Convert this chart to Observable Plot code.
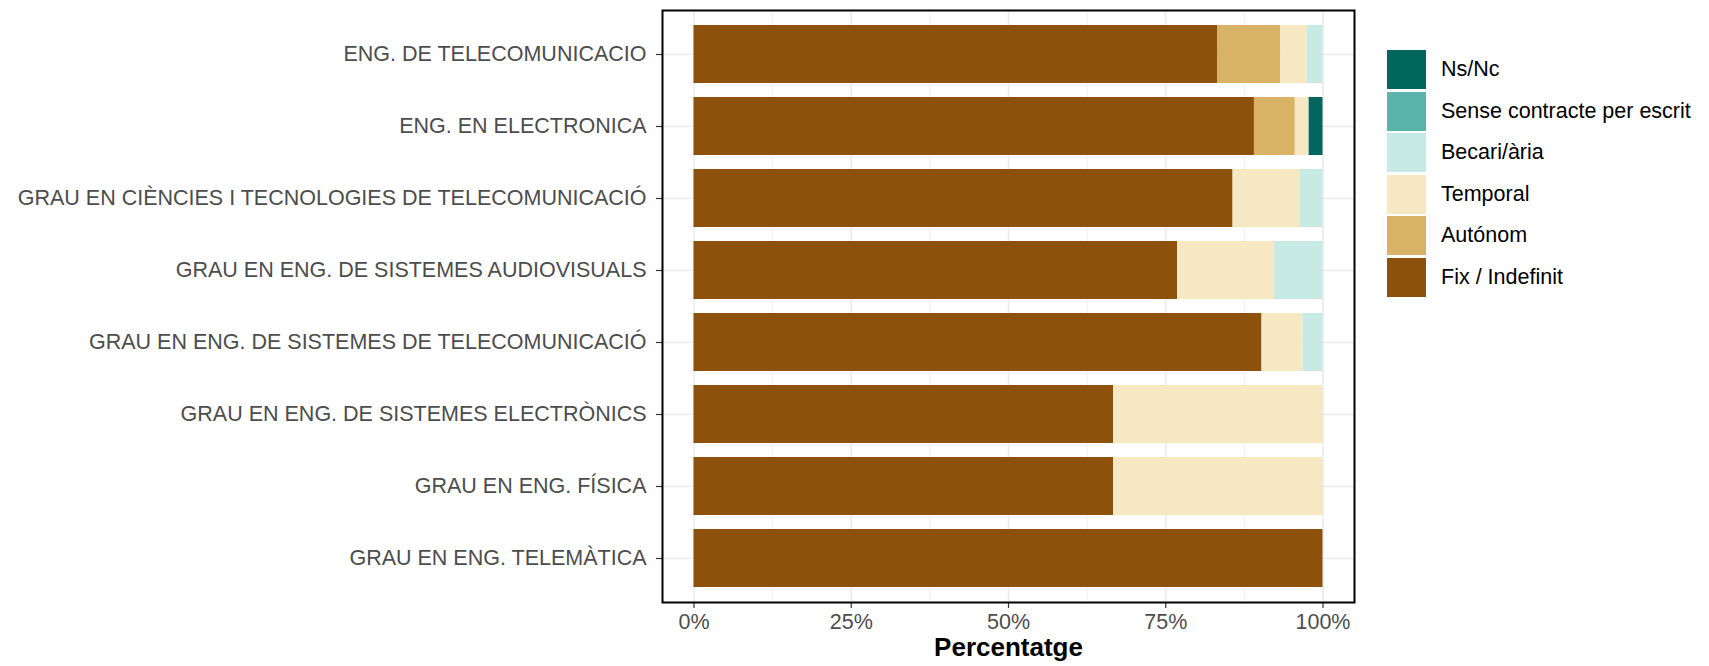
<!DOCTYPE html>
<html>
<head>
<meta charset="utf-8">
<script src="https://cdn.jsdelivr.net/npm/d3@7"></script>
<script src="https://cdn.jsdelivr.net/npm/@observablehq/plot@0.6"></script>
<style>
  html, body { margin: 0; padding: 0; background: #fff; }
  #wrap { position: relative; width: 1709px; height: 666px; font-family: "Liberation Sans", Arial, Helvetica, sans-serif; }
  #legend { position: absolute; left: 1387px; top: 50px; }
  .item { display: flex; align-items: center; height: 39px; margin-bottom: 2.5px; }
  .key { width: 39px; height: 39px; flex: none; }
  .lab { margin-left: 15px; font-size: 21.5px; color: #000; white-space: nowrap; }
</style>
</head>
<body>
<div id="wrap"><div id="chart"></div><div id="legend"></div></div>
<script>
// Categories (top to bottom)
const programs = [
  "ENG. DE TELECOMUNICACIO",
  "ENG. EN ELECTRONICA",
  "GRAU EN CIÈNCIES I TECNOLOGIES DE TELECOMUNICACIÓ",
  "GRAU EN ENG. DE SISTEMES AUDIOVISUALS",
  "GRAU EN ENG. DE SISTEMES DE TELECOMUNICACIÓ",
  "GRAU EN ENG. DE SISTEMES ELECTRÒNICS",
  "GRAU EN ENG. FÍSICA",
  "GRAU EN ENG. TELEMÀTICA"
];
// Series (stack order left to right)
const seriesNames = ["Fix / Indefinit", "Autónom", "Temporal", "Becari/ària", "Sense contracte per escrit", "Ns/Nc"];
const seriesColors = ["#8c510a", "#d8b365", "#f6e8c3", "#c7eae5", "#5ab4ac", "#01665e"];
// Percent values per series, one per program
const fixIndefinit = [83.3, 89.1, 85.7, 76.9, 90.3, 66.7, 66.7, 100];
const autonom      = [10.0, 6.5, 0, 0, 0, 0, 0, 0];
const temporal     = [4.2, 2.2, 10.7, 15.4, 6.5, 33.3, 33.3, 0];
const becari       = [2.5, 0, 3.6, 7.7, 3.2, 0, 0, 0];
const senseContr   = [0, 0, 0, 0, 0, 0, 0, 0];
const nsnc         = [0, 2.2, 0, 0, 0, 0, 0, 0];
// Axis ticks
const xTicks = [0, 0.25, 0.5, 0.75, 1];
const xMinor = [0.125, 0.375, 0.625, 0.875];
const xTitle = "Percentatge";

const seriesValues = [fixIndefinit, autonom, temporal, becari, senseContr, nsnc];
const data = [];
seriesNames.forEach((s, si) => {
  programs.forEach((p, pi) => {
    data.push({program: p, series: s, value: seriesValues[si][pi] / 100});
  });
});

const font = "Liberation Sans, Arial, Helvetica, sans-serif";
const chart = Plot.plot({
  width: 1709,
  height: 666,
  marginLeft: 662,
  marginRight: 355,
  marginTop: 10,
  marginBottom: 64,
  style: {fontFamily: font, background: "#fff"},
  x: {domain: [0, 1], insetLeft: 31.5, insetRight: 31.5},
  y: {domain: programs, paddingInner: 0.2, paddingOuter: 0.2},
  color: {domain: seriesNames, range: seriesColors},
  marks: [
    Plot.gridX(xMinor, {stroke: "#ebebeb", strokeOpacity: 1, strokeWidth: 0.8}),
    Plot.gridX(xTicks, {stroke: "#ebebeb", strokeOpacity: 1, strokeWidth: 1.6}),
    Plot.gridY({stroke: "#ebebeb", strokeOpacity: 1, strokeWidth: 1.6}),
    Plot.barX(data, {
      x: "value", y: "program", fill: "series",
      order: seriesNames,
      insetTop: 0, insetBottom: 0, insetLeft: 0, insetRight: 0
    }),
    Plot.axisY({tickSize: 6, tickPadding: 10, fontSize: 21.5, stroke: "#333", fill: "#4d4d4d", label: null, strokeWidth: 1.2}),
    Plot.axisX(xTicks, {tickSize: 6, tickPadding: 5, fontSize: 21.5, stroke: "#333", fill: "#4d4d4d", label: null, tickFormat: d3.format(".0%"), strokeWidth: 1.2}),
    Plot.text([xTitle], {frameAnchor: "bottom", dy: 53, fontWeight: "bold", fontSize: 26, fill: "#000"}),
    Plot.frame({stroke: "#000", strokeWidth: 2})
  ]
});
document.getElementById("chart").appendChild(chart);

// Legend (reverse order, like the reference)
const legend = document.getElementById("legend");
for (let i = seriesNames.length - 1; i >= 0; i--) {
  const item = document.createElement("div");
  item.className = "item";
  const key = document.createElement("div");
  key.className = "key";
  key.style.background = seriesColors[i];
  const lab = document.createElement("div");
  lab.className = "lab";
  lab.textContent = seriesNames[i];
  item.appendChild(key);
  item.appendChild(lab);
  legend.appendChild(item);
}
</script>
</body>
</html>
